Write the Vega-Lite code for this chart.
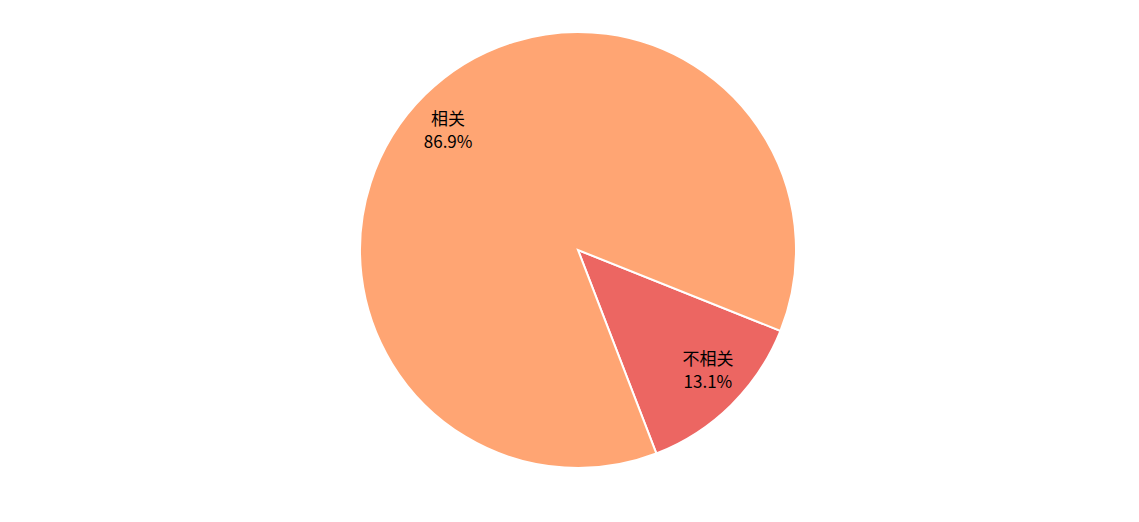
{
  "$schema": "https://vega.github.io/schema/vega-lite/v6.json",
  "width": 1122,
  "height": 500,
  "padding": {"left": 17, "top": 0, "right": 0, "bottom": 22},
  "background": "white",
  "config": {"view": {"stroke": null}},
  "data": {"values": [
    {"category": "不相关", "value": 13.1, "label": ["不相关", "13.1%"]},
    {"category": "相关", "value": 86.9, "label": ["相关", "86.9%"]}
  ]},
  "layer": [
    {"mark": {"type": "arc", "outerRadius": 218, "stroke": "white", "strokeWidth": 2},
     "encoding": {
       "theta": {"field": "value", "type": "quantitative", "stack": true, "scale": {"range": [1.951, 8.2342]}},
       "order": {"field": "category", "sort": "ascending"},
       "color": {"field": "category", "type": "nominal", "legend": null,
        "scale": {"domain": ["相关", "不相关"], "range": ["#FFA573", "#EC6662"]}}}},
    {"mark": {"type": "text", "radius": 177, "dy": -10, "fontSize": 17, "lineHeight": 23, "baseline": "middle", "font": "Noto Sans CJK SC", "color": "black"},
     "encoding": {
       "theta": {"field": "value", "type": "quantitative", "stack": true, "scale": {"range": [1.906, 8.1892]}},
       "order": {"field": "category", "sort": "ascending"},
       "text": {"field": "label"}}}
  ],
  "resolve": {"scale": {"theta": "independent"}}
}
